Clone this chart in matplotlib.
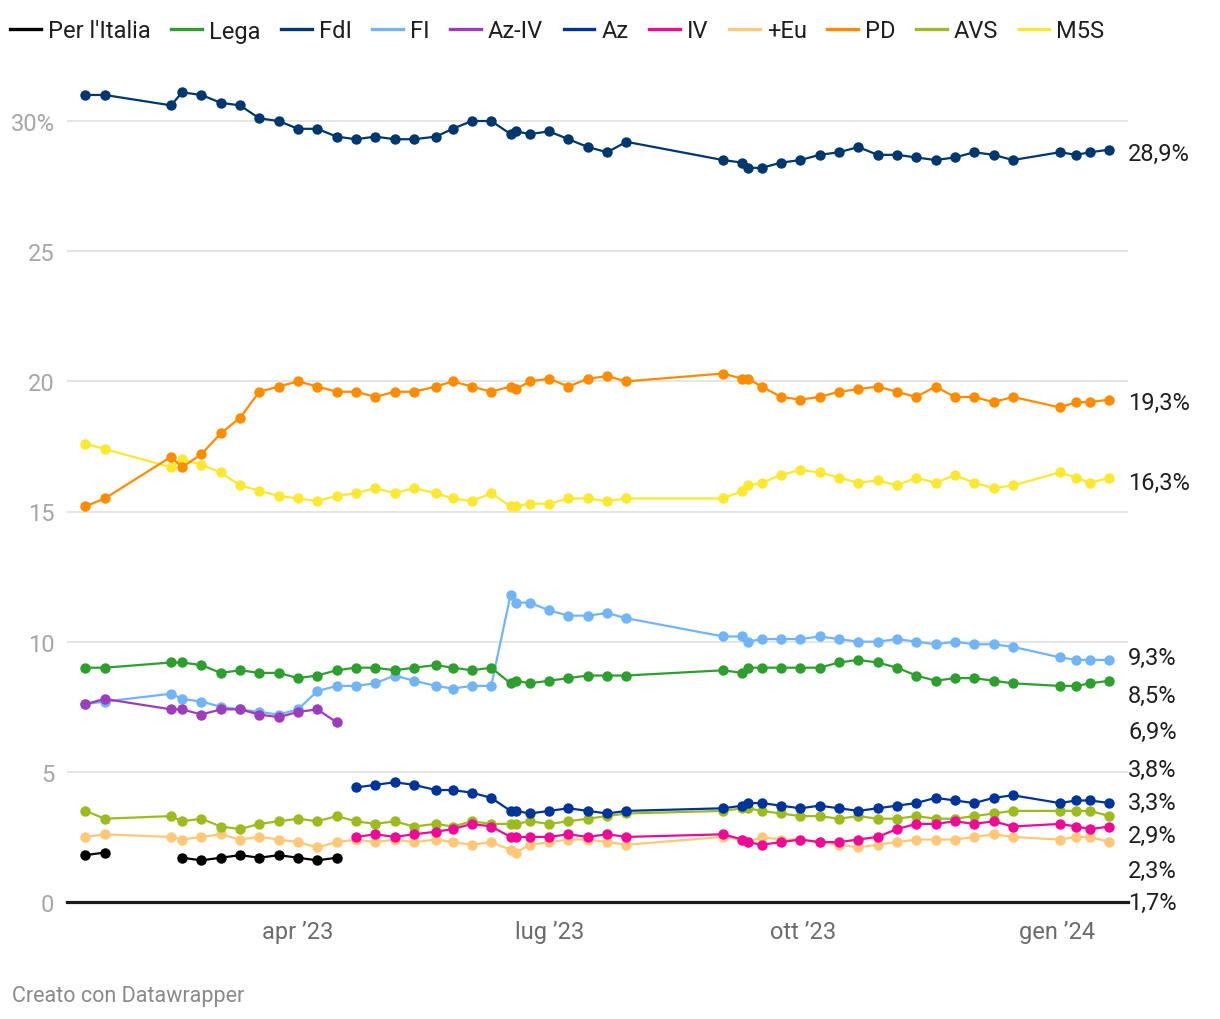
import matplotlib
matplotlib.use('Agg')
import matplotlib.pyplot as plt
import matplotlib.dates as mdates
from matplotlib.lines import Line2D
import numpy as np
import datetime as dt

plt.rcParams['font.family'] = ['Roboto', 'DejaVu Sans']

# ---------------- data ----------------
dates = ['2023-01-14', '2023-01-21', '2023-02-14', '2023-02-18', '2023-02-25', '2023-03-04',
         '2023-03-11', '2023-03-18', '2023-03-25', '2023-04-01', '2023-04-08', '2023-04-15',
         '2023-04-22', '2023-04-29', '2023-05-06', '2023-05-13', '2023-05-21', '2023-05-27',
         '2023-06-03', '2023-06-10', '2023-06-17', '2023-06-19', '2023-06-24', '2023-07-01',
         '2023-07-08', '2023-07-15', '2023-07-22', '2023-07-29', '2023-09-02', '2023-09-09',
         '2023-09-11', '2023-09-16', '2023-09-23', '2023-09-30', '2023-10-07', '2023-10-14',
         '2023-10-21', '2023-10-28', '2023-11-04', '2023-11-11', '2023-11-18', '2023-11-25',
         '2023-12-02', '2023-12-09', '2023-12-16', '2024-01-02', '2024-01-08', '2024-01-13',
         '2024-01-20']

per_italia = [1.8, 1.9, None, 1.7, 1.6, 1.7, 1.8, 1.7, 1.8, 1.7, 1.6, 1.7] + [None] * 37

lega = [9.0, 9.0, 9.2, 9.2, 9.1, 8.8, 8.9, 8.8, 8.8, 8.6,
        8.7, 8.9, 9.0, 9.0, 8.9, 9.0, 9.1, 9.0, 8.9, 9.0,
        8.4, 8.5, 8.4, 8.5, 8.6, 8.7, 8.7, 8.7, 8.9, 8.8,
        9.0, 9.0, 9.0, 9.0, 9.0, 9.2, 9.3, 9.2, 9.0, 8.7,
        8.5, 8.6, 8.6, 8.5, 8.4, 8.3, 8.3, 8.4, 8.5]

fdi = [31.0, 31.0, 30.6, 31.1, 31.0, 30.7, 30.6, 30.1, 30.0, 29.7,
       29.7, 29.4, 29.3, 29.4, 29.3, 29.3, 29.4, 29.7, 30.0, 30.0,
       29.5, 29.6, 29.5, 29.6, 29.3, 29.0, 28.8, 29.2, 28.5, 28.4,
       28.2, 28.2, 28.4, 28.5, 28.7, 28.8, 29.0, 28.7, 28.7, 28.6,
       28.5, 28.6, 28.8, 28.7, 28.5, 28.8, 28.7, 28.8, 28.9]

fi = [7.6, 7.7, 8.0, 7.8, 7.7, 7.5, 7.4, 7.3, 7.2, 7.4,
      8.1, 8.3, 8.3, 8.4, 8.7, 8.5, 8.3, 8.2, 8.3, 8.3,
      11.8, 11.5, 11.5, 11.2, 11.0, 11.0, 11.1, 10.9, 10.2, 10.2,
      10.0, 10.1, 10.1, 10.1, 10.2, 10.1, 10.0, 10.0, 10.1, 10.0,
      9.9, 10.0, 9.9, 9.9, 9.8, 9.4, 9.3, 9.3, 9.3]

az_iv = [7.6, 7.8, 7.4, 7.4, 7.2, 7.4, 7.4, 7.2, 7.1, 7.3, 7.4, 6.9] + [None] * 37

az = [None] * 12 + [4.4, 4.5, 4.6, 4.5, 4.3, 4.3, 4.2, 4.0,
                    3.5, 3.5, 3.4, 3.5, 3.6, 3.5, 3.4, 3.5, 3.6, 3.7,
                    3.8, 3.8, 3.7, 3.6, 3.7, 3.6, 3.5, 3.6, 3.7, 3.8,
                    4.0, 3.9, 3.8, 4.0, 4.1, 3.8, 3.9, 3.9, 3.8]

iv = [None] * 12 + [2.5, 2.6, 2.5, 2.6, 2.7, 2.8, 3.0, 2.9,
                    2.5, 2.5, 2.5, 2.5, 2.6, 2.5, 2.6, 2.5, 2.6, 2.4,
                    2.3, 2.2, 2.3, 2.4, 2.3, 2.3, 2.4, 2.5, 2.8, 3.0,
                    3.0, 3.1, 3.0, 3.1, 2.9, 3.0, 2.9, 2.8, 2.9]

piu_eu = [2.5, 2.6, 2.5, 2.4, 2.5, 2.6, 2.4, 2.5, 2.4, 2.3,
          2.1, 2.3, 2.4, 2.3, 2.4, 2.3, 2.4, 2.3, 2.2, 2.3,
          2.0, 1.9, 2.2, 2.3, 2.4, 2.4, 2.3, 2.2, 2.5, 2.4,
          2.3, 2.5, 2.4, 2.4, 2.3, 2.2, 2.1, 2.2, 2.3, 2.4,
          2.4, 2.4, 2.5, 2.6, 2.5, 2.4, 2.5, 2.5, 2.3]

pd_ = [15.2, 15.5, 17.1, 16.7, 17.2, 18.0, 18.6, 19.6, 19.8, 20.0,
       19.8, 19.6, 19.6, 19.4, 19.6, 19.6, 19.8, 20.0, 19.8, 19.6,
       19.8, 19.7, 20.0, 20.1, 19.8, 20.1, 20.2, 20.0, 20.3, 20.1,
       20.1, 19.8, 19.4, 19.3, 19.4, 19.6, 19.7, 19.8, 19.6, 19.4,
       19.8, 19.4, 19.4, 19.2, 19.4, 19.0, 19.2, 19.2, 19.3]

avs = [3.5, 3.2, 3.3, 3.1, 3.2, 2.9, 2.8, 3.0, 3.1, 3.2,
       3.1, 3.3, 3.1, 3.0, 3.1, 2.9, 3.0, 2.9, 3.1, 3.0,
       3.0, 3.0, 3.1, 3.0, 3.1, 3.2, 3.3, 3.4, 3.5, 3.6,
       3.6, 3.5, 3.4, 3.3, 3.3, 3.2, 3.3, 3.2, 3.2, 3.3,
       3.2, 3.2, 3.3, 3.4, 3.5, 3.5, 3.5, 3.5, 3.3]

m5s = [17.6, 17.4, 16.7, 17.0, 16.8, 16.5, 16.0, 15.8, 15.6, 15.5,
       15.4, 15.6, 15.7, 15.9, 15.7, 15.9, 15.7, 15.5, 15.4, 15.7,
       15.2, 15.2, 15.3, 15.3, 15.5, 15.5, 15.4, 15.5, 15.5, 15.8,
       16.0, 16.1, 16.4, 16.6, 16.5, 16.3, 16.1, 16.2, 16.0, 16.3,
       16.1, 16.4, 16.1, 15.9, 16.0, 16.5, 16.3, 16.1, 16.3]

legend_order = ["Per l'Italia", 'Lega', 'FdI', 'FI', 'Az-IV', 'Az', 'IV', '+Eu', 'PD', 'AVS', 'M5S']
series = {"Per l'Italia": per_italia, 'Lega': lega, 'FdI': fdi, 'FI': fi, 'Az-IV': az_iv,
          'Az': az, 'IV': iv, '+Eu': piu_eu, 'PD': pd_, 'AVS': avs, 'M5S': m5s}

y_ticks = [0, 5, 10, 15, 20, 25, 30]
y_tick_labels = ['0', '5', '10', '15', '20', '25', '30%']
x_ticks = ['2023-04-01', '2023-07-01', '2023-10-01', '2024-01-01']
x_tick_labels = ['apr \u201923', 'lug \u201923', 'ott \u201923', 'gen \u201924']

# ---------------- styles / layout ----------------
colors = {"Per l'Italia": '#000000', 'Lega': '#2e9e2e', 'FdI': '#00376e', 'FI': '#72b5f6',
          'Az-IV': '#9d3cbd', 'Az': '#00349a', 'IV': '#ee0a96', '+Eu': '#ffc878',
          'PD': '#ff8c00', 'AVS': '#9dbb1e', 'M5S': '#fde831'}
draw_order = ['M5S', '+Eu', 'AVS', 'FI', 'PD', 'IV', 'Az', 'Az-IV', 'Lega', 'FdI', "Per l'Italia"]
# vertical positions (data units) of the end labels after de-overlapping
label_y = {'FdI': 28.77, 'PD': 19.17, 'M5S': 16.10, 'FI': 9.41, 'Lega': 7.95, 'Az-IV': 6.55,
           'Az': 5.11, 'AVS': 3.84, 'IV': 2.54, '+Eu': 1.23, "Per l'Italia": 0.0}

W, H = 1220, 1020
fig = plt.figure(figsize=(W / 100, H / 100), dpi=100)
ax_l, ax_r, ax_b, ax_t = 67, 1128, 903, 70
ax = fig.add_axes([ax_l / W, 1 - ax_b / H, (ax_r - ax_l) / W, (ax_b - ax_t) / H])

xd = [mdates.date2num(dt.date.fromisoformat(d)) for d in dates]

for name in draw_order:
    vals = np.array([np.nan if v is None else v for v in series[name]], dtype=float)
    ax.plot(xd, vals, color=colors[name], lw=1.6, marker='o', ms=7.5,
            markeredgewidth=0, solid_joinstyle='round', zorder=3)

apr = mdates.date2num(dt.date(2023, 4, 1))
jan = mdates.date2num(dt.date(2024, 1, 1))
ppd = (1057 - 298) / (jan - apr)
ax.set_xlim(apr - (298 - ax_l) / ppd, jan + (ax_r - 1057) / ppd)
ax.set_ylim(0, (ax_b - ax_t) / ((903 - 122) / 30))

ax.set_yticks(y_ticks)
ax.set_yticklabels(y_tick_labels)
ax.set_xticks([mdates.date2num(dt.date.fromisoformat(d)) for d in x_ticks])
ax.set_xticklabels(x_tick_labels)
ax.tick_params(axis='y', length=0, pad=9, labelsize=17, labelcolor='#a6a6a6')
ax.tick_params(axis='x', length=0, pad=13, labelsize=17, labelcolor='#6b6b6b')
for s in ax.spines.values():
    s.set_visible(False)
ax.grid(axis='y', color='#e3e3e3', lw=1.3, zorder=0)
ax.grid(axis='x', visible=False)
ax.axhline(0, color='#1a1a1a', lw=2.3, zorder=4, clip_on=False)

# end labels
for name in legend_order:
    vals = [v for v in series[name] if v is not None]
    txt = f"{vals[-1]:.1f}".replace('.', ',') + '%'
    ax.text(1.0, label_y[name], txt, transform=ax.get_yaxis_transform(),
            ha='left', va='center', fontsize=17, color='#1f1f1f', clip_on=False)

# legend
handles = [Line2D([0], [0], color=colors[n], lw=2.4) for n in legend_order]
fig.legend(handles, legend_order, loc='center left', bbox_to_anchor=(10 / W, 1 - 32 / H),
           ncol=len(legend_order), frameon=False, fontsize=17, handlelength=1.3,
           handletextpad=0.3, columnspacing=0.87, borderpad=0, borderaxespad=0,
           labelcolor='#1f1f1f')

fig.text(12 / W, 1 - 997 / H, 'Creato con Datawrapper', ha='left', va='center',
         fontsize=15.5, color='#8a8a8a')

fig.savefig('out.png', dpi=100)
